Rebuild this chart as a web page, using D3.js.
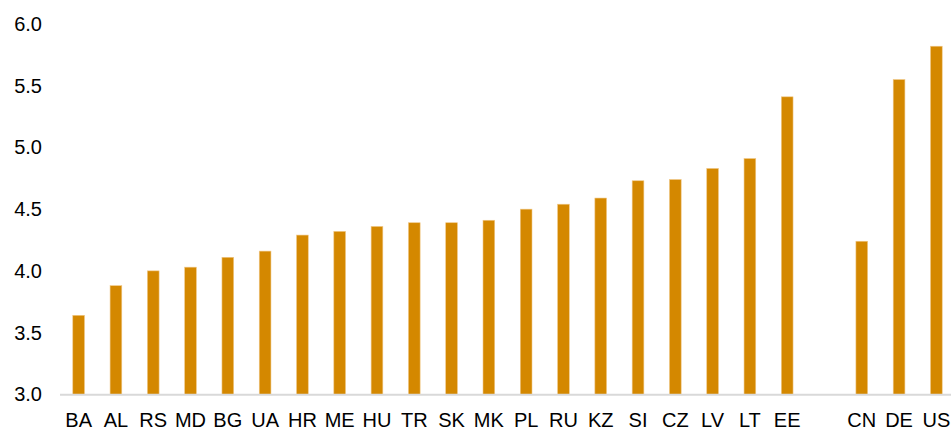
<!DOCTYPE html>
<html>
<head>
<meta charset="utf-8">
<script src="https://cdn.jsdelivr.net/npm/d3@7"></script>
<style>
    body { margin: 0; background: #fff; }
    text { font-family: "Liberation Sans", Arial, sans-serif; fill: #000; }
</style>
</head>
<body>
<div id="chart"></div>
<script>
    // country codes in the order they appear; "" is the empty gap slot
    const countries = ["BA", "AL", "RS", "MD", "BG", "UA", "HR", "ME", "HU", "TR",
        "SK", "MK", "PL", "RU", "KZ", "SI", "CZ", "LV", "LT", "EE", "", "CN", "DE", "US"];
    const values = [3.64, 3.88, 4.00, 4.03, 4.11, 4.16, 4.29, 4.32, 4.36, 4.39,
        4.39, 4.41, 4.50, 4.54, 4.59, 4.73, 4.74, 4.83, 4.91, 5.41, null, 4.24, 5.55, 5.82];
    const yTicks = [3.0, 3.5, 4.0, 4.5, 5.0, 5.5, 6.0];

    const width = 951,
        height = 430;

    const svg = d3.select("#chart")
        .append("svg")
        .attr("width", width)
        .attr("height", height);

    const x = d3.scaleBand()
        .domain(d3.range(countries.length))
        .range([60, 955])
        .paddingInner(0.686)
        .paddingOuter(0.343);

    const y = d3.scaleLinear()
        .domain([3, 6])
        .range([394.3, 24]);

    // y tick labels
    svg.selectAll(".yLabel")
        .data(yTicks)
        .join("text")
        .attr("class", "yLabel")
        .attr("x", 42)
        .attr("y", d => y(d))
        .attr("dy", "0.35em")
        .attr("text-anchor", "end")
        .style("font-size", "20px")
        .text(d => d.toFixed(1));

    const data = countries.map((c, i) => ({i: i, c: c, v: values[i]}));

    // bars
    svg.selectAll(".bar")
        .data(data.filter(d => d.v != null))
        .join("rect")
        .attr("class", "bar")
        .attr("x", d => x(d.i))
        .attr("width", x.bandwidth())
        .attr("y", d => y(d.v))
        .attr("height", d => y(3) - y(d.v))
        .attr("fill", "#d48800")
        .attr("stroke", "#f0c888")
        .attr("stroke-width", 0.6);

    // baseline
    svg.append("line")
        .attr("x1", 60)
        .attr("x2", width)
        .attr("y1", y(3) + 0.5)
        .attr("y2", y(3) + 0.5)
        .attr("stroke", "#d9d9d9")
        .attr("stroke-width", 2);

    // category labels
    svg.selectAll(".xLabel")
        .data(data.filter(d => d.c != ""))
        .join("text")
        .attr("class", "xLabel")
        .attr("x", d => x(d.i) + x.bandwidth() / 2)
        .attr("y", 426.5)
        .attr("text-anchor", "middle")
        .style("font-size", "20px")
        .text(d => d.c);
</script>
</body>
</html>
